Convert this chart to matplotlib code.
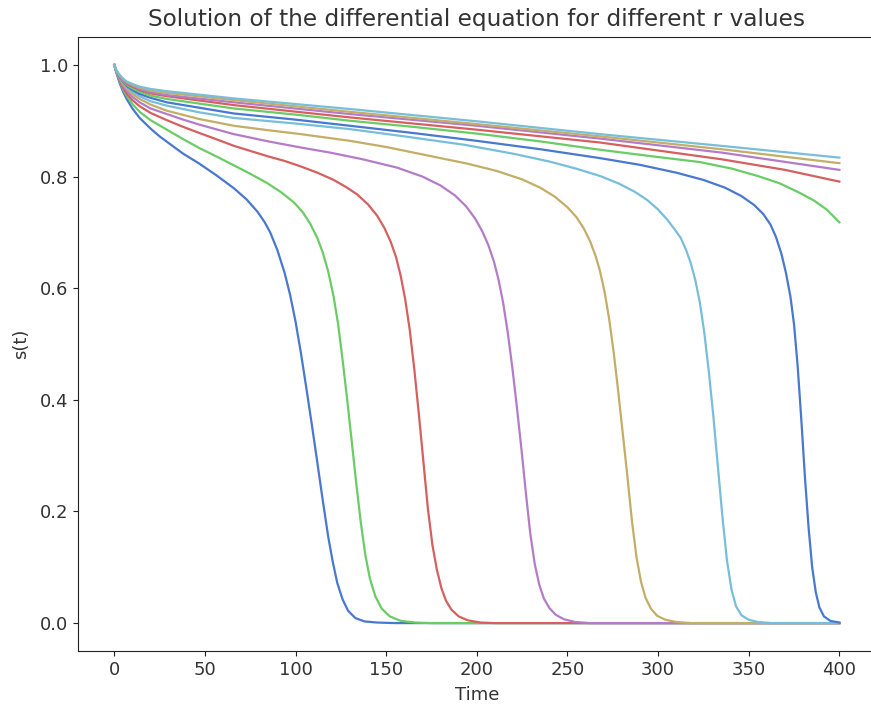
import matplotlib
matplotlib.use("Agg")
import matplotlib.pyplot as plt

colors = ["#4878CF", "#6ACC65", "#D65F5F", "#B47CC7", "#C4AD66", "#77BEDB"]

t1 = [0, 1, 2, 3, 5, 7, 10, 14, 20, 25, 30, 38, 47, 56, 66, 73, 79, 83, 86, 90, 94, 97, 100, 103, 106, 109, 112, 115, 118, 120.5, 123, 126, 129, 133, 138, 145, 155, 400]
s1 = [1.0, 0.988, 0.977, 0.967, 0.951, 0.938, 0.922, 0.905, 0.886, 0.872, 0.860, 0.841, 0.823, 0.803, 0.779, 0.759, 0.737, 0.718, 0.700, 0.668, 0.627, 0.588, 0.540, 0.483, 0.420, 0.355, 0.288, 0.220, 0.155, 0.110, 0.072, 0.042, 0.022, 0.009, 0.003, 0.001, 0.0, 0.0]

t2 = [0, 1, 2, 3, 5, 7, 10, 14, 20, 29, 38, 47, 57, 66, 75, 84, 92, 99, 104, 108, 112, 115, 118, 121, 123.5, 126, 128.5, 131, 133.5, 136, 138.5, 141, 144, 147.5, 152, 158, 166, 175, 400]
s2 = [1.0, 0.989, 0.979, 0.970, 0.955, 0.944, 0.930, 0.916, 0.901, 0.884, 0.867, 0.851, 0.835, 0.820, 0.805, 0.789, 0.772, 0.754, 0.736, 0.716, 0.690, 0.664, 0.630, 0.585, 0.535, 0.470, 0.400, 0.325, 0.250, 0.180, 0.122, 0.080, 0.048, 0.026, 0.012, 0.004, 0.001, 0.0, 0.0]

t3 = [0, 1, 2, 3, 5, 7, 10, 14, 20, 29, 38, 47, 57, 66, 75, 85, 94, 103, 112, 121, 128, 134, 140, 145, 149, 152.5, 155.5, 158, 160.5, 163, 165.5, 168, 170.5, 173, 175.5, 178, 180.5, 183, 186, 190, 195, 202, 210, 400]
s3 = [1.0, 0.989, 0.980, 0.972, 0.958, 0.948, 0.937, 0.926, 0.914, 0.901, 0.889, 0.878, 0.866, 0.855, 0.846, 0.836, 0.828, 0.818, 0.807, 0.794, 0.781, 0.768, 0.750, 0.730, 0.708, 0.683, 0.655, 0.622, 0.580, 0.525, 0.455, 0.375, 0.290, 0.205, 0.140, 0.095, 0.062, 0.040, 0.024, 0.012, 0.005, 0.001, 0.0, 0.0]

t4 = [0, 1, 2, 3, 5, 7, 10, 14, 20, 29, 38, 47, 57, 66, 85, 103, 119, 137, 156, 170, 180, 188, 194, 199, 203, 206.5, 209.5, 212, 214.5, 217, 219.5, 222, 224.5, 227, 229.5, 232, 234.5, 237, 240, 243.5, 248, 254, 262, 400]
s4 = [1.0, 0.989, 0.981, 0.974, 0.962, 0.953, 0.943, 0.933, 0.922, 0.912, 0.902, 0.893, 0.884, 0.876, 0.863, 0.852, 0.843, 0.831, 0.816, 0.800, 0.784, 0.766, 0.747, 0.725, 0.702, 0.676, 0.647, 0.615, 0.574, 0.522, 0.460, 0.390, 0.315, 0.235, 0.160, 0.105, 0.068, 0.044, 0.027, 0.015, 0.007, 0.002, 0.0, 0.0]

t5 = [0, 1, 2, 3, 5, 7, 10, 14, 20, 29, 47, 66, 85, 103, 130, 150, 174, 195, 211, 225, 235, 243, 250, 255, 259, 262.5, 265.5, 268, 270.5, 273, 275.5, 278, 280.5, 283, 285.5, 288, 290.5, 293, 296, 299.5, 304, 310, 318, 400]
s5 = [1.0, 0.990, 0.982, 0.976, 0.965, 0.957, 0.948, 0.939, 0.929, 0.918, 0.903, 0.891, 0.883, 0.876, 0.864, 0.853, 0.837, 0.823, 0.810, 0.795, 0.780, 0.764, 0.745, 0.727, 0.707, 0.684, 0.658, 0.630, 0.593, 0.545, 0.485, 0.415, 0.340, 0.265, 0.185, 0.120, 0.075, 0.046, 0.026, 0.013, 0.006, 0.002, 0.0, 0.0]

t6 = [0, 1, 2, 3, 5, 7, 10, 14, 20, 29, 47, 66, 100, 130, 160, 193, 220, 240, 255, 268, 278, 287, 294, 300, 305, 309, 312.5, 315.5, 318, 320.5, 323, 325.5, 328, 330.5, 333, 335.5, 338, 340.5, 343, 346, 350, 355, 362, 400]
s6 = [1.0, 0.990, 0.983, 0.977, 0.967, 0.960, 0.952, 0.944, 0.935, 0.927, 0.915, 0.905, 0.895, 0.885, 0.872, 0.857, 0.841, 0.827, 0.814, 0.801, 0.788, 0.773, 0.758, 0.741, 0.723, 0.706, 0.690, 0.668, 0.645, 0.615, 0.575, 0.520, 0.450, 0.370, 0.280, 0.190, 0.112, 0.060, 0.030, 0.014, 0.006, 0.002, 0.0, 0.0]

t7 = [0, 1, 2, 3, 5, 7, 10, 14, 20, 29, 66, 100, 130, 165, 200, 235, 268, 290, 310, 325, 337, 346, 353, 358, 362, 365, 368, 370.5, 373, 375, 377, 379, 381, 383, 385, 387, 389, 391.5, 395, 400]
s7 = [1.0, 0.990, 0.984, 0.978, 0.969, 0.962, 0.955, 0.948, 0.941, 0.933, 0.913, 0.902, 0.891, 0.878, 0.864, 0.849, 0.833, 0.821, 0.807, 0.794, 0.780, 0.765, 0.749, 0.733, 0.714, 0.692, 0.662, 0.628, 0.585, 0.535, 0.460, 0.365, 0.262, 0.172, 0.100, 0.055, 0.028, 0.012, 0.004, 0.001]

t8 = [0, 1, 2, 3, 5, 7, 10, 14, 20, 29, 66, 100, 130, 165, 200, 235, 268, 300, 323, 341, 355, 367, 378, 386, 393, 400]
s8 = [1.0, 0.990, 0.985, 0.979, 0.970, 0.964, 0.958, 0.952, 0.945, 0.939, 0.922, 0.911, 0.900, 0.889, 0.877, 0.863, 0.848, 0.835, 0.826, 0.814, 0.801, 0.788, 0.771, 0.757, 0.741, 0.718]

t9 = [0, 1, 2, 3, 5, 7, 10, 14, 20, 29, 66, 130, 200, 268, 335, 370, 400]
s9 = [1.0, 0.990, 0.985, 0.980, 0.972, 0.966, 0.961, 0.955, 0.949, 0.944, 0.928, 0.906, 0.884, 0.861, 0.831, 0.812, 0.791]

t10 = [0, 1, 2, 3, 5, 7, 10, 14, 20, 29, 66, 130, 200, 268, 335, 400]
s10 = [1.0, 0.991, 0.986, 0.981, 0.973, 0.968, 0.963, 0.957, 0.951, 0.946, 0.933, 0.912, 0.891, 0.868, 0.843, 0.812]

t11 = [0, 1, 2, 3, 5, 7, 10, 14, 20, 29, 66, 130, 200, 268, 335, 400]
s11 = [1.0, 0.991, 0.986, 0.981, 0.974, 0.969, 0.964, 0.959, 0.954, 0.950, 0.937, 0.916, 0.894, 0.872, 0.849, 0.824]

t12 = [0, 1, 2, 3, 5, 7, 10, 14, 20, 29, 66, 130, 200, 268, 335, 400]
s12 = [1.0, 0.991, 0.986, 0.982, 0.975, 0.970, 0.966, 0.961, 0.957, 0.953, 0.940, 0.921, 0.899, 0.876, 0.855, 0.834]

series = [(t1, s1), (t2, s2), (t3, s3), (t4, s4), (t5, s5), (t6, s6),
          (t7, s7), (t8, s8), (t9, s9), (t10, s10), (t11, s11), (t12, s12)]

title = "Solution of the differential equation for different r values"
xlabel = "Time"
ylabel = "s(t)"

fig = plt.figure(figsize=(8.71, 7.08), dpi=100)
ax = fig.add_axes([0.0896, 0.0805, 0.9157, 0.8672])
for i, (t, s) in enumerate(series):
    ax.plot(t, s, color=colors[i % len(colors)], lw=1.6)

ax.set_xlim(-20, 420)
ax.set_ylim(-0.05, 1.05)
ax.set_xticks([0, 50, 100, 150, 200, 250, 300, 350, 400])
ax.set_yticks([0.0, 0.2, 0.4, 0.6, 0.8, 1.0])
ax.tick_params(labelsize=13, colors="#222222", labelcolor="#333333")
ax.set_xlabel(xlabel, fontsize=13, color="#333333", labelpad=5)
ax.set_ylabel(ylabel, fontsize=13, color="#333333", labelpad=7)
ax.set_title(title, fontsize=16.7, color="#333333", pad=8)
for sp in ax.spines.values():
    sp.set_color("#222222")
ax.spines["right"].set_visible(False)

fig.savefig("out.png", dpi=100)
